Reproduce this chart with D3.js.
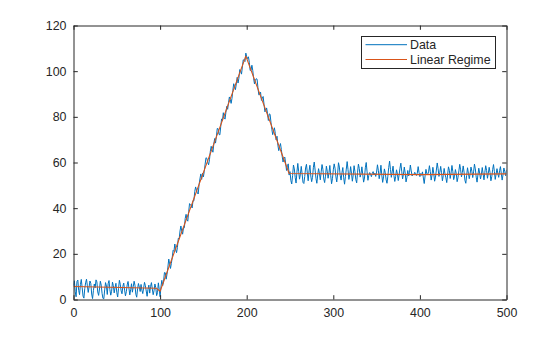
<!DOCTYPE html>
<html>
<head>
<meta charset="utf-8">
<script src="https://cdn.jsdelivr.net/npm/d3@7"></script>
<style>
  html, body { margin: 0; padding: 0; background: #ffffff; }
  svg { display: block; font-family: "Liberation Sans", Arial, Helvetica, sans-serif; }
</style>
</head>
<body>
<svg id="chart" width="560" height="337"></svg>
<script>
// Measured signal, sampled at x = 0, 1, 2, ... 500 (one value per sample)
const baselineSeg = [
  6.1, 8.2, 3.4, 1.2, 7.9, 8.5, 4.0, 2.1, 6.6, 8.8,
  5.2, 1.5, 0.6, 4.8, 7.3, 8.9, 6.0, 3.1, 5.5, 8.1,
  7.0, 2.4, 0.4, 3.9, 6.8, 5.1, 8.6, 7.7, 3.3, 1.8,
  4.6, 8.0, 6.3, 2.7, 0.5, 0.3, 4.2, 7.4, 5.9, 2.2,
  6.9, 8.3, 4.4, 1.9, 3.6, 7.6, 6.1, 2.9, 5.3, 7.1,
  3.0, 1.1, 4.9, 8.4, 6.7, 3.8, 2.5, 5.8, 7.2, 4.1,
  1.6, 3.4, 6.4, 7.9, 5.0, 2.0, 4.3, 6.9, 3.2, 5.6,
  8.0, 6.2, 2.3, 1.0, 4.7, 7.0, 5.4, 3.5, 6.6, 4.0,
  2.6, 5.1, 7.5, 6.0, 3.7, 1.4, 4.5, 6.3, 2.8, 5.7,
  7.4, 4.6, 2.1, 3.9, 6.8, 5.2, 1.7, 3.0, 7.3, 4.4,
  1.2
];
const riseSeg = [
  5.5, 8.4, 6.1, 7.9, 11.8, 11.7, 8.9, 11.1, 14.2, 17.7,
  15.6, 13.6, 15.8, 18.4, 21.5, 21.1, 24.3, 21.8, 20.5, 22.8,
  26.8, 26.5, 30.0, 32.2, 30.0, 28.6, 31.4, 31.4, 35.5, 37.3,
  34.9, 34.3, 38.4, 42.0, 41.6, 41.0, 40.1, 43.3, 43.2, 47.2,
  49.3, 48.0, 46.7, 46.2, 50.3, 52.8, 55.0, 52.6, 55.3, 53.7,
  56.1, 59.3, 62.1, 61.8, 60.0, 59.0, 61.2, 64.9, 67.1, 65.5,
  64.5, 68.0, 70.5, 68.5, 71.4, 74.9, 74.8, 72.3, 72.1, 75.7,
  79.1, 78.3, 81.8, 79.6, 79.0, 82.0, 84.6, 83.3, 86.2, 88.7,
  87.6, 85.9, 88.1, 91.6, 94.5, 93.2, 91.9, 94.4, 97.3, 94.8,
  96.9, 100.7, 100.0, 98.7, 101.8, 105.0, 104.7, 104.2, 107.9, 106.3
];
const fallSeg = [
  105.5, 106.3, 103.9, 100.3, 100.5, 102.6, 100.3, 96.8, 94.4, 96.0,
  96.7, 96.5, 92.7, 89.6, 89.8, 90.8, 87.2, 88.2, 88.9, 85.5,
  82.2, 82.7, 83.9, 81.6, 78.4, 81.3, 81.1, 77.7, 74.6, 72.2,
  73.8, 75.2, 72.8, 69.9, 71.5, 67.6, 65.2, 67.0, 68.3, 65.7,
  62.6, 60.2, 62.0, 62.4, 59.6, 56.5, 58.6, 59.4, 54.5, 56.0
];
const plateauSeg = [
  52.1, 50.6, 54.3, 58.9, 57.2, 53.4, 51.0, 55.8, 59.6, 56.1,
  52.7, 54.9, 58.3, 55.0, 51.3, 50.8, 53.9, 57.6, 59.2, 55.4,
  52.0, 56.3, 58.8, 54.1, 51.6, 53.5, 57.9, 60.2, 56.7, 53.0,
  50.9, 54.6, 57.3, 55.2, 52.4, 55.9, 59.1, 57.0, 52.8, 51.2,
  54.0, 58.4, 56.2, 53.1, 55.5, 58.7, 54.4, 50.7, 52.9, 56.8,
  59.4, 57.5, 53.7, 51.5, 55.1, 59.9, 58.0, 54.2, 52.3, 55.6,
  57.8, 53.3, 50.5, 53.8, 57.1, 60.4, 56.9, 52.6, 54.7, 58.2,
  55.3, 51.8, 54.5, 58.6, 56.0, 52.5, 51.1, 55.7, 59.3, 57.4,
  53.6, 55.0, 58.1, 54.8, 51.4, 53.2, 57.7, 60.0, 55.9, 52.2,
  54.4, 55.6, 54.9, 53.8, 55.2, 56.0, 54.5, 55.3, 53.9, 55.8,
  59.0, 56.6, 52.9, 55.2, 58.8, 54.5, 51.3, 53.7, 57.2, 55.5,
  52.4, 50.9, 54.0, 57.8, 60.6, 57.0, 53.5, 55.9, 58.4, 54.3,
  51.7, 53.9, 56.8, 55.0, 52.1, 54.6, 57.5, 59.7, 56.2, 52.8,
  54.9, 58.0, 55.4, 51.5, 53.4, 56.5, 54.1, 55.7, 58.9, 56.3,
  54.1, 55.0, 54.6, 55.7, 55.1, 54.3, 55.4, 58.2, 55.6, 53.8,
  55.2, 54.4, 55.9, 53.2, 50.8, 54.2, 57.0, 55.1, 54.7, 55.9,
  58.6, 56.0, 52.3, 54.5, 57.9, 55.2, 51.8, 53.6, 56.7, 59.8,
  57.3, 53.9, 55.7, 58.3, 55.5, 52.0, 54.3, 57.4, 55.0, 53.3,
  51.2, 54.7, 58.1, 56.6, 53.0, 55.4, 58.7, 56.1, 52.5, 54.0,
  56.9, 55.2, 51.6, 53.5, 56.3, 59.2, 56.8, 53.7, 55.6, 58.5,
  55.8, 52.2, 50.9, 54.4, 57.7, 55.3, 52.9, 55.1, 58.0, 56.2,
  53.4, 55.9, 59.3, 57.2, 53.6, 51.4, 54.6, 57.5, 55.4, 52.8,
  54.8, 57.8, 55.0, 52.4, 55.7, 58.6, 56.5, 53.1, 55.3, 57.9,
  55.6, 52.0, 53.8, 56.9, 59.1, 56.0, 52.6, 54.9, 57.3, 55.2,
  53.5, 56.4, 58.2, 55.1, 52.3, 54.7, 57.6, 56.0, 54.2, 56.8
];

// Piecewise-linear fit (breakpoints of the linear regime model)
const fitX = [0, 96, 100, 199, 249, 400, 500];
const fitY = [5.7, 4.9, 3.6, 106.6, 55.2, 54.7, 55.0];

const xTicks = [0, 100, 200, 300, 400, 500];
const yTicks = [0, 20, 40, 60, 80, 100, 120];
const seriesNames = ["Data", "Linear Regime"];
const seriesColors = ["#0072BD", "#D95319"];

const dataY = baselineSeg.concat(riseSeg, fallSeg, plateauSeg);
const data = dataY.map((v, i) => ({ x: i, y: v }));
const fit = fitX.map((v, i) => ({ x: v, y: fitY[i] }));

const svg = d3.select("#chart");
const axisColor = "#262626";
const fontSize = 12.4;

const x = d3.scaleLinear().domain([0, 500]).range([73.5, 506.5]);
const y = d3.scaleLinear().domain([0, 120]).range([299.5, 25.5]);

svg.append("rect").attr("width", 560).attr("height", 337).attr("fill", "#ffffff");

svg.append("defs").append("clipPath").attr("id", "plotClip")
  .append("rect")
  .attr("x", x(0)).attr("y", y(120))
  .attr("width", x(500) - x(0)).attr("height", y(0) - y(120));

const line = d3.line().x(d => x(d.x)).y(d => y(d.y));

const plot = svg.append("g").attr("clip-path", "url(#plotClip)");
plot.append("path")
  .datum(data)
  .attr("fill", "none")
  .attr("stroke", seriesColors[0])
  .attr("stroke-width", 1)
  .attr("stroke-linejoin", "round")
  .attr("d", line);
plot.append("path")
  .datum(fit)
  .attr("fill", "none")
  .attr("stroke", seriesColors[1])
  .attr("stroke-width", 1.1)
  .attr("stroke-linejoin", "round")
  .attr("d", line);

function styleAxis(g) {
  g.selectAll(".domain").attr("stroke", axisColor).attr("stroke-width", 1);
  g.selectAll(".tick line").attr("stroke", axisColor).attr("stroke-width", 1);
  g.selectAll(".tick text").attr("fill", axisColor)
    .style("font-size", fontSize + "px")
    .style("font-family", "'Liberation Sans', Arial, Helvetica, sans-serif");
}

const tick = 4.3;
svg.append("g")
  .attr("transform", `translate(0,${y(0)})`)
  .call(d3.axisBottom(x).tickValues(xTicks).tickSizeInner(-tick).tickSizeOuter(0).tickPadding(8.7))
  .call(styleAxis);
svg.append("g")
  .attr("transform", `translate(0,${y(120)})`)
  .call(d3.axisTop(x).tickValues(xTicks).tickSizeInner(-tick).tickSizeOuter(0).tickFormat(""))
  .call(styleAxis);
svg.append("g")
  .attr("transform", `translate(${x(0)},0)`)
  .call(d3.axisLeft(y).tickValues(yTicks).tickSizeInner(-tick).tickSizeOuter(0).tickPadding(7))
  .call(styleAxis);
svg.append("g")
  .attr("transform", `translate(${x(500)},0)`)
  .call(d3.axisRight(y).tickValues(yTicks).tickSizeInner(-tick).tickSizeOuter(0).tickFormat(""))
  .call(styleAxis);

// Legend
const legend = svg.append("g").attr("transform", "translate(361.5,36.5)");
legend.append("rect")
  .attr("width", 134).attr("height", 32)
  .attr("fill", "#ffffff").attr("stroke", axisColor).attr("stroke-width", 1);
seriesNames.forEach((name, i) => {
  const row = legend.append("g").attr("transform", `translate(0,${8.2 + i * 14.8})`);
  row.append("line")
    .attr("x1", 4).attr("x2", 45.5).attr("y1", 0).attr("y2", 0)
    .attr("stroke", seriesColors[i]).attr("stroke-width", 1);
  row.append("text")
    .attr("x", 48.5).attr("y", 0).attr("dy", "0.35em")
    .attr("fill", axisColor)
    .style("font-size", fontSize + "px")
    .text(name);
});
</script>
</body>
</html>
